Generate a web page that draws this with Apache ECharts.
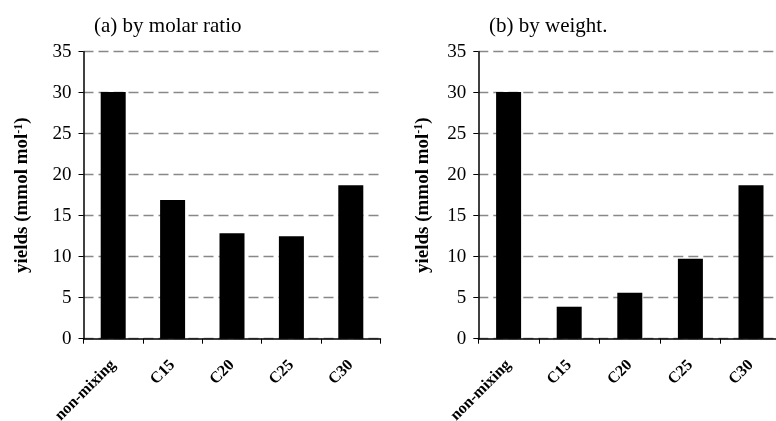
<!DOCTYPE html>
<html><head><meta charset="utf-8">
<script src="https://cdn.jsdelivr.net/npm/echarts@6/dist/echarts.min.js"></script>
<style>html,body{margin:0;padding:0;background:#fff}#c{width:776px;height:421px}</style>
</head><body><div id="c"></div>
<script>
const categories = ['non-mixing', 'C15', 'C20', 'C25', 'C30'];
const molarValues = [30.1, 16.9, 12.85, 12.5, 18.7];
const weightValues = [30.1, 3.9, 5.6, 9.75, 18.7];
const titles = ['(a) by molar ratio', '(b) by weight.'];
const yTicks = { min: 0, max: 35, interval: 5 };

const FONT = '"Liberation Serif", "Times New Roman", serif';
const chart = echarts.init(document.getElementById('c'), null, { renderer: 'canvas' });

function yAxis(idx, gap) {
  return {
    gridIndex: idx, type: 'value', min: yTicks.min, max: yTicks.max, interval: yTicks.interval,
    name: '{n|yields (mmol mol}{s|-1}{n|)}', nameLocation: 'middle', nameGap: gap,
    nameTextStyle: { rich: {
      n: { fontFamily: FONT, fontWeight: 'bold', fontSize: 19, color: '#000' },
      s: { fontFamily: FONT, fontWeight: 'bold', fontSize: 12, color: '#000', verticalAlign: 'top', padding: [0, 0, 7, 0] }
    } },
    axisLine: { show: true, lineStyle: { color: '#000', width: 1.5 } },
    axisTick: { show: true, inside: false, length: 5, lineStyle: { color: '#000', width: 1 } },
    axisLabel: { fontFamily: FONT, fontSize: 19, color: '#000', margin: 12 },
    splitLine: { show: true, lineStyle: { color: '#888', width: 1.3, type: [10, 5] } }
  };
}
function xAxis(idx) {
  return {
    gridIndex: idx, type: 'category', data: categories,
    axisLine: { show: true, lineStyle: { color: '#000', width: 1.5 } },
    axisTick: { show: true, inside: false, length: 5, alignWithLabel: false, lineStyle: { color: '#000', width: 1 } },
    axisLabel: { fontFamily: FONT, fontWeight: 'bold', fontSize: 16, color: '#000', rotate: 45, margin: 24, interval: 0 }
  };
}

chart.setOption({
  animation: false,
  backgroundColor: '#fff',
  title: [
    { text: titles[0], left: 89, top: 11, textStyle: { fontFamily: FONT, fontWeight: 'normal', fontSize: 21, color: '#000' } },
    { text: titles[1], left: 484, top: 11, textStyle: { fontFamily: FONT, fontWeight: 'normal', fontSize: 21, color: '#000' } }
  ],
  grid: [
    { left: 83.5, top: 51.7, width: 297, height: 287, containLabel: false, outerBoundsMode: 'none' },
    { left: 478.3, top: 51.7, width: 303, height: 287, containLabel: false, outerBoundsMode: 'none' }
  ],
  xAxis: [xAxis(0), xAxis(1)],
  yAxis: [yAxis(0, 52), yAxis(1, 46)],
  series: [
    { type: 'bar', xAxisIndex: 0, yAxisIndex: 0, data: molarValues, barWidth: 25, itemStyle: { color: '#000' } },
    { type: 'bar', xAxisIndex: 1, yAxisIndex: 1, data: weightValues, barWidth: 25, itemStyle: { color: '#000' } }
  ]
});
</script></body></html>
